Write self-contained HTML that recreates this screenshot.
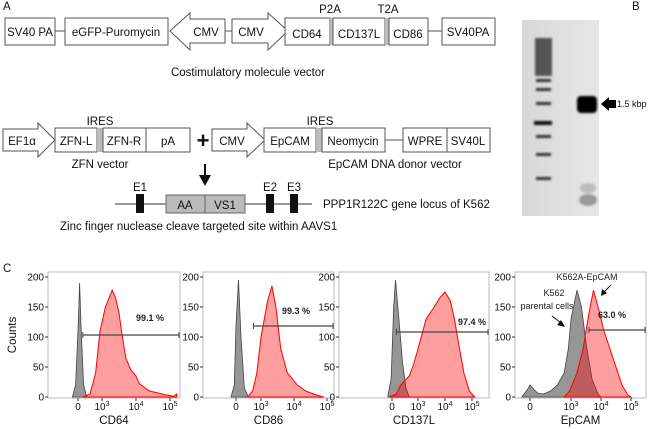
<!DOCTYPE html>
<html><head><meta charset="utf-8"><style>
html,body{margin:0;padding:0;background:#fff;}
svg{display:block;font-family:"Liberation Sans",sans-serif;}
.bx{fill:#fff;stroke:#555;stroke-width:1;}
.t{font-size:11.5px;fill:#111;}
.tk{font-size:10px;fill:#111;}
</style></head><body>
<svg id="fig" width="650" height="429" viewBox="0 0 650 429" xmlns="http://www.w3.org/2000/svg">
<g>
<text x="3" y="10" class="t" font-size="12">A</text>
<text x="330" y="13" class="t" text-anchor="middle">P2A</text>
<text x="388" y="13" class="t" text-anchor="middle">T2A</text>
<line x1="55" y1="31" x2="65" y2="31" stroke="#555"/>
<rect class="bx" x="5" y="18" width="50" height="27"/>
<text x="30" y="36" class="t" text-anchor="middle">SV40 PA</text>
<rect class="bx" x="65" y="18" width="103" height="27"/>
<text x="116" y="36" class="t" text-anchor="middle">eGFP-Puromycin</text>
<polygon class="bx" points="170,31 190,13 190,19 225,19 225,43 190,43 190,50"/>
<text x="206" y="36" class="t" text-anchor="middle">CMV</text>
<line x1="225" y1="31" x2="232" y2="31" stroke="#555"/>
<polygon class="bx" points="232,19 268,19 268,13 288,31 268,50 268,43 232,43"/>
<text x="251" y="36" class="t" text-anchor="middle">CMV</text>
<rect class="bx" x="285" y="18" width="45" height="27"/>
<text x="307" y="38" class="t" text-anchor="middle">CD64</text>
<rect x="330" y="18" width="3" height="27" fill="#bbb"/>
<rect class="bx" x="333" y="18" width="52" height="27"/>
<text x="359" y="38" class="t" text-anchor="middle">CD137L</text>
<rect x="385" y="18" width="4" height="27" fill="#bbb"/>
<rect class="bx" x="389" y="18" width="39" height="27"/>
<text x="408" y="38" class="t" text-anchor="middle">CD86</text>
<line x1="428" y1="31" x2="442" y2="31" stroke="#555"/>
<rect class="bx" x="442" y="18" width="53" height="27"/>
<text x="468" y="36" class="t" text-anchor="middle">SV40PA</text>
<text x="248" y="76" class="t" text-anchor="middle">Costimulatory molecule vector</text>

<text x="100" y="125" class="t" text-anchor="middle">IRES</text>
<text x="320" y="125" class="t" text-anchor="middle">IRES</text>
<polygon class="bx" points="3,129 38,129 38,123 55,140 38,157 38,151 3,151"/>
<text x="22" y="145" class="t" text-anchor="middle">EF1α</text>
<rect class="bx" x="55" y="128" width="42" height="24"/>
<text x="76" y="145" class="t" text-anchor="middle">ZFN-L</text>
<rect x="97" y="128" width="6" height="24" fill="#bbb"/>
<rect class="bx" x="103" y="128" width="43" height="24"/>
<text x="124" y="145" class="t" text-anchor="middle">ZFN-R</text>
<rect class="bx" x="146" y="128" width="44" height="24"/>
<text x="168" y="145" class="t" text-anchor="middle">pA</text>
<text x="203" y="148" font-size="22" font-weight="bold" text-anchor="middle" fill="#111">+</text>
<polygon class="bx" points="212,129 247,129 247,123 265,140 247,157 247,151 212,151"/>
<text x="232" y="145" class="t" text-anchor="middle">CMV</text>
<rect class="bx" x="264" y="128" width="52" height="24"/>
<text x="290" y="145" class="t" text-anchor="middle">EpCAM</text>
<rect x="316" y="128" width="6" height="24" fill="#bbb"/>
<rect class="bx" x="322" y="128" width="63" height="24"/>
<text x="353" y="145" class="t" text-anchor="middle">Neomycin</text>
<line x1="385" y1="140" x2="403" y2="140" stroke="#555"/>
<rect class="bx" x="403" y="128" width="44" height="24"/>
<text x="425" y="145" class="t" text-anchor="middle">WPRE</text>
<rect class="bx" x="447" y="128" width="43" height="24"/>
<text x="468" y="145" class="t" text-anchor="middle">SV40L</text>
<text x="100" y="168" class="t" text-anchor="middle">ZFN vector</text>
<text x="395" y="168" class="t" text-anchor="middle">EpCAM DNA donor vector</text>
<line x1="205" y1="164" x2="205" y2="176" stroke="#111" stroke-width="2"/>
<polygon points="199,175 211,175 205,186" fill="#111"/>
<text x="140" y="191" class="t" text-anchor="middle">E1</text>
<text x="270" y="191" class="t" text-anchor="middle">E2</text>
<text x="294" y="191" class="t" text-anchor="middle">E3</text>
<line x1="115" y1="204" x2="312" y2="204" stroke="#333"/>
<rect x="136" y="194" width="8" height="19" fill="#111"/>
<rect x="166" y="195" width="39" height="18" fill="#bbb" stroke="#666"/>
<text x="185" y="209" class="t" text-anchor="middle">AA</text>
<rect x="205" y="195" width="40" height="18" fill="#bbb" stroke="#666"/>
<text x="225" y="209" class="t" text-anchor="middle">VS1</text>
<rect x="266" y="194" width="8" height="19" fill="#111"/>
<rect x="290" y="194" width="8" height="19" fill="#111"/>
<text x="323" y="208" class="t">PPP1R122C gene locus of K562</text>
<text x="60" y="230" class="t">Zinc finger nuclease cleave targeted site within AAVS1</text>
</g>
<g>
<text x="632" y="10" class="t" font-size="12">B</text>
<defs><linearGradient id="gel" x1="0" x2="1"><stop offset="0" stop-color="#d8d8d8"/><stop offset="1" stop-color="#e6e6e6"/></linearGradient>
<filter id="bl"><feGaussianBlur stdDeviation="1"/></filter></defs>
<rect x="522" y="20" width="77" height="196" fill="url(#gel)"/>
<g fill="#333" filter="url(#bl)">
<rect x="535" y="38" width="17" height="38" fill="#555"/>
<rect x="536" y="79" width="15" height="3"/><rect x="536" y="88" width="15" height="3"/>
<rect x="536" y="102" width="15" height="3"/><rect x="534" y="121" width="18" height="4" fill="#111"/>
<rect x="536" y="135" width="15" height="3"/><rect x="536" y="153" width="15" height="3"/>
<rect x="536" y="177" width="15" height="3"/>
</g>
<g filter="url(#bl)">
<rect x="577" y="96" width="20" height="17" rx="4" fill="#000"/>
<ellipse cx="588" cy="200" rx="9" ry="6" fill="#999"/>
<ellipse cx="588" cy="188" rx="8" ry="5" fill="#bbb"/>
</g>
<polygon points="601,104 609,97 609,100 616,100 616,108 609,108 609,111" fill="#000"/>
<text x="617" y="107" font-size="9" fill="#111">1.5 kbp</text>
</g>
<text x="3" y="272" class="t" font-size="12">C</text>
<text transform="translate(16,335) rotate(-90)" class="t" font-size="12" text-anchor="middle">Counts</text>
<g id="plots"></g>
</svg>
<script>
const cd64GreyT = [-0.7,-0.3,0,0.2,0.4,0.7,1.1];
const cd64GreyC = [0,20,110,190,110,20,0];
const cd64RedT = [0.6,1.5,2.2,2.75,3.1,3.3,3.4,3.5,3.6,3.7,3.85,4.0,4.1,4.4,4.85,5.1,5.2];
const cd64RedC = [0,5,40,110,150,178,165,140,100,65,45,35,22,10,4,1,5];
const cd86GreyT = [-0.6,-0.2,0,0.3,0.6,1.0,1.5];
const cd86GreyC = [0,20,120,195,100,15,0];
const cd86RedT = [1.4,2.0,2.5,3.0,3.2,3.33,3.45,3.6,3.8,4.1,4.35,4.65,4.9];
const cd86RedC = [0,10,40,100,160,185,150,80,40,20,10,4,0];
const cd137GreyT = [-0.5,-0.1,0.2,0.4,0.8,1.2,1.6,2.0];
const cd137GreyC = [0,30,150,195,130,60,15,0];
const cd137RedT = [-0.3,0.5,1.0,2.0,2.5,3.0,3.3,3.6,3.8,4.0,4.2,4.35,4.5,4.7,4.9,5.1];
const cd137RedC = [0,5,20,35,55,80,130,150,165,175,160,130,90,40,10,0];
const epGreyT = [-0.6,-0.2,0,0.3,0.6,1.0,1.5,2.0,2.5,2.8,3.0,3.2,3.35,3.5,3.7,3.9,4.0];
const epGreyC = [0,12,20,12,6,5,10,20,40,80,130,178,150,90,30,5,0];
const epRedT = [2.5,2.9,3.2,3.4,3.6,3.75,3.9,4.1,4.3,4.5,4.7,4.9,5.0];
const epRedC = [0,10,40,80,140,178,150,110,80,50,20,3,0];
const tickLabels = ["0","10","10","10"];
const tickExps = ["","3","4","5"];
const tickT = [0,3,4,5];
const yTicks = [0,50,100,150,200];
const percents = ["99.1 %","99.3 %","97.4 %","63.0 %"];
const gateStartT = [0.6,2.1,0.5,3.6];
const xTitles = ["CD64","CD86","CD137L","EpCAM"];

const NS = "http://www.w3.org/2000/svg";
const root = document.getElementById('plots');
function mk(tag, attrs, parent){const e=document.createElementNS(NS,tag);for(const k in attrs)e.setAttribute(k,attrs[k]);(parent||root).appendChild(e);return e;}
const layout = [
 {l:48,r:180,z:78,d3:102,dec:34,gateY:335,labX:150,labY:321},
 {l:203,r:334,z:236,d3:261,dec:33,gateY:326,labX:296,labY:314},
 {l:339,r:489,z:392,d3:418,dec:27,gateY:332,labX:472,labY:325},
 {l:515,r:646,z:530,d3:571,dec:30,gateY:330,labX:612,labY:318}
];
const series = [[cd64GreyT,cd64GreyC,cd64RedT,cd64RedC],[cd86GreyT,cd86GreyC,cd86RedT,cd86RedC],[cd137GreyT,cd137GreyC,cd137RedT,cd137RedC],[epGreyT,epGreyC,epRedT,epRedC]];
const topY=272, botY=398, y0=397, y200=277;
function yS(c){return y0-(c/200)*(y0-y200);}
layout.forEach((L,i)=>{
  const xS = t => t<=3 ? L.z+(L.d3-L.z)*t/3 : L.d3+(t-3)*L.dec;
  const g = mk('g',{});
  
  
  const fr = mk('rect',{x:L.l,y:topY,width:L.r-L.l,height:botY-topY,fill:'none',stroke:'#bbb'},g);
  
  
  yTicks.forEach(v=>{
    const y=yS(v);
    mk('line',{x1:L.l-3,y1:y,x2:L.l,y2:y,stroke:'#333'},g);
    const tx=mk('text',{x:L.l-4,y:y+3.5,'text-anchor':'end',class:'tk'},g);
    tx.textContent=v;
    
    
  });
  tickT.forEach((t,k)=>{
    const x=xS(t);
    mk('line',{x1:x,y1:botY,x2:x,y2:botY+3,stroke:'#333'},g);
    const tx=mk('text',{x:x,y:botY+12,'text-anchor':'middle',class:'tk'},g);
    tx.textContent=tickLabels[k];
    
    
    if(tickExps[k]){const s=mk('tspan',{dy:-4,'font-size':7},tx);s.textContent=tickExps[k];}
  });
  const [gT,gC,rT,rC]=series[i];
  const path=(T,C)=>{let d='M'+xS(T[0])+','+y0;T.forEach((t,k)=>{d+=' L'+xS(t).toFixed(1)+','+yS(C[k]).toFixed(1);});return d+' L'+xS(T[T.length-1])+','+y0+' Z';};
  const gp=mk('path',{d:path(gT,gC),fill:'#969696',stroke:'#444','stroke-width':0.8},g);
  
  
  const rp=mk('path',{d:path(rT,rC),fill:'rgba(255,0,0,0.38)',stroke:'#f00','stroke-width':1},g);
  
  
  const gx=xS(gateStartT[i]);
  const gl=mk('line',{x1:gx,y1:L.gateY,x2:L.r-1,y2:L.gateY,stroke:'#444','stroke-width':1.2},g);
  
  
  mk('line',{x1:gx,y1:L.gateY-3,x2:gx,y2:L.gateY+3,stroke:'#444'},g);
  mk('line',{x1:L.r-1,y1:L.gateY-3,x2:L.r-1,y2:L.gateY+3,stroke:'#444'},g);
  const pt=mk('text',{x:L.labX,y:L.labY,'text-anchor':'middle','font-size':9,'font-weight':'bold',fill:'#222'},g);
  pt.textContent=percents[i];
  
  
  const xt=mk('text',{x:(L.l+L.r)/2,y:424,'text-anchor':'middle',class:'t','font-size':12},g);
  xt.textContent=xTitles[i];
  
  
});
const a1=mk('text',{x:587,y:280,'text-anchor':'middle','font-size':9,fill:'#222'});
a1.textContent='K562A-EpCAM';


const a2=mk('text',{x:554,y:296,'text-anchor':'middle','font-size':9,fill:'#222'});
a2.textContent='K562';


const a3=mk('text',{x:547,y:309,'text-anchor':'middle','font-size':9,fill:'#222'});
a3.textContent='parental cells';


mk('line',{x1:611,y1:285,x2:604,y2:292,stroke:'#111'});
mk('polygon',{points:'601,296 602,289 607,293',fill:'#111'});
mk('line',{x1:552,y1:316,x2:561,y2:323,stroke:'#111'});
mk('polygon',{points:'565,327 557,325 561,320',fill:'#111'});
</script>
</body></html>
